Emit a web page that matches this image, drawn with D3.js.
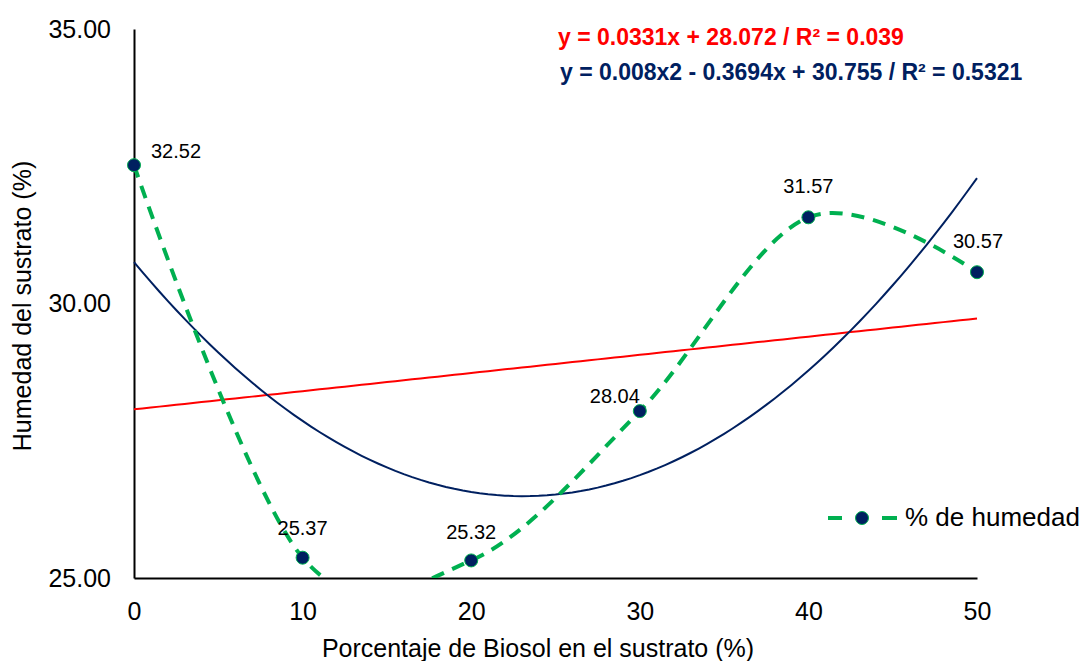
<!DOCTYPE html>
<html>
<head>
<meta charset="UTF-8">
<script src="https://cdn.jsdelivr.net/npm/d3@7"></script>
<style>
 body { margin: 0; background: #fff; }
 text { font-family: Arial, "Liberation Sans", sans-serif; fill: #000; }
</style>
</head>
<body>
<script>
var xValues = [0, 10, 20, 30, 40, 50];
var humedad = [32.52, 25.37, 25.32, 28.04, 31.57, 30.57];
var yTicks = [25, 30, 35];
var linCoef = [28.072, 0.0331];
var quadCoef = [30.755, -0.3694, 0.008];
var eqLinear = 'y = 0.0331x + 28.072 / R\u00b2 = 0.039';
var eqQuad = 'y = 0.008x2 - 0.3694x + 30.755 / R\u00b2 = 0.5321';

var width = 1086, height = 661;
var plotL = 134, plotR = 977, plotT = 29, plotB = 578;

var svg = d3.select('body').append('svg')
    .attr('width', width).attr('height', height);

var x = d3.scaleLinear().domain([0, 50]).range([plotL, plotR]);
var y = d3.scaleLinear().domain([25, 35]).range([plotB, plotT]);

svg.append('defs').append('clipPath').attr('id', 'plot')
   .append('rect').attr('x', plotL).attr('y', plotT)
   .attr('width', plotR - plotL).attr('height', plotB - plotT);

// axes (no tick marks)
var xAxis = svg.append('g').attr('transform', 'translate(0,' + plotB + ')')
    .call(d3.axisBottom(x).tickValues(xValues).tickSize(0).tickPadding(24));
var yAxis = svg.append('g').attr('transform', 'translate(' + plotL + ',0)')
    .call(d3.axisLeft(y).tickValues(yTicks).tickFormat(d3.format('.2f')).tickSize(0).tickPadding(23));
[xAxis, yAxis].forEach(function (a) {
    a.select('.domain').attr('stroke', '#000').attr('stroke-width', 2);
    a.selectAll('text').style('font-size', '25px').style('font-family', 'Arial, "Liberation Sans", sans-serif');
});

// trend lines
var xs = d3.range(0, 50.01, 0.5);
var trend = d3.line().x(d => x(d[0])).y(d => y(d[1]));
svg.append('path')
   .datum(xs.map(v => [v, linCoef[0] + linCoef[1] * v]))
   .attr('d', trend).attr('fill', 'none').attr('stroke', '#ff0000').attr('stroke-width', 2);
svg.append('path')
   .datum(xs.map(v => [v, quadCoef[0] + quadCoef[1] * v + quadCoef[2] * v * v]))
   .attr('d', trend).attr('fill', 'none').attr('stroke', '#002060').attr('stroke-width', 2);

// series
var pts = xValues.map((v, i) => [v, humedad[i]]);
svg.append('path').datum(pts)
   .attr('clip-path', 'url(#plot)')
   .attr('d', d3.line().x(d => x(d[0])).y(d => y(d[1])).curve(d3.curveCardinal.tension(0)))
   .attr('fill', 'none').attr('stroke', '#00b050').attr('stroke-width', 4)
   .attr('stroke-dasharray', '13,9');
svg.selectAll('.pt').data(pts).enter().append('circle')
   .attr('cx', d => x(d[0])).attr('cy', d => y(d[1])).attr('r', 6.5)
   .attr('fill', '#002060').attr('stroke', '#00b050').attr('stroke-width', 1);

// data labels
var lblOff = [[17, -7, 'start'], [0, -23, 'middle'], [0, -21, 'middle'], [-25, -8, 'middle'], [0, -24, 'middle'], [1, -24, 'middle']];
svg.selectAll('.lbl').data(pts).enter().append('text')
   .attr('x', (d, i) => x(d[0]) + lblOff[i][0])
   .attr('y', (d, i) => y(d[1]) + lblOff[i][1])
   .attr('text-anchor', (d, i) => lblOff[i][2])
   .style('font-size', '20px')
   .text(d => d[1].toFixed(2));

// equations
svg.append('text').attr('x', 558).attr('y', 45).style('font-size', '23px')
   .style('font-weight', 'bold').style('fill', '#ff0000').text(eqLinear);
svg.append('text').attr('x', 560).attr('y', 80).style('font-size', '23px')
   .style('font-weight', 'bold').style('fill', '#002060').text(eqQuad);

// axis titles
svg.append('text').attr('x', 538).attr('y', 657)
   .attr('text-anchor', 'middle').style('font-size', '25px')
   .text('Porcentaje de Biosol en el sustrato (%)');
svg.append('text').attr('transform', 'translate(31,' + 306 + ') rotate(-90)')
   .attr('text-anchor', 'middle').style('font-size', '25px')
   .text('Humedad del sustrato (%)');

// legend
var lg = svg.append('g').attr('transform', 'translate(828,518)');
[[0, 14], [54, 69]].forEach(function (s) {
    lg.append('line').attr('x1', s[0]).attr('x2', s[1]).attr('y1', 0).attr('y2', 0)
      .attr('stroke', '#00b050').attr('stroke-width', 4);
});
lg.append('circle').attr('cx', 34).attr('cy', 0).attr('r', 6.5)
  .attr('fill', '#002060').attr('stroke', '#00b050').attr('stroke-width', 1);
lg.append('text').attr('x', 77).attr('y', 8).style('font-size', '26px').text('% de humedad');
</script>
</body>
</html>
